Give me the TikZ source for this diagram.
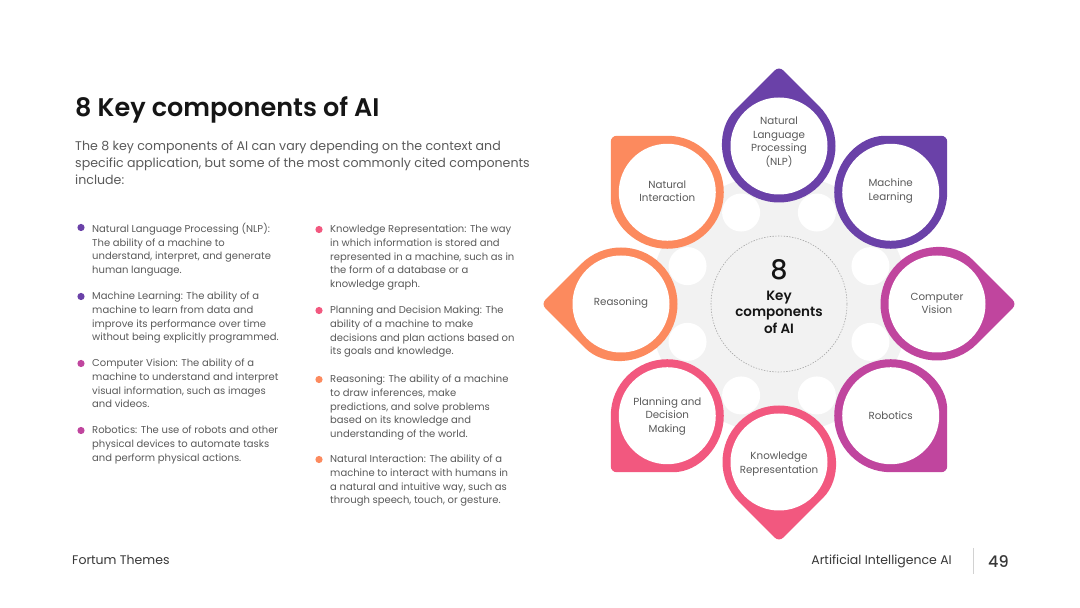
\documentclass[tikz,border=0pt]{standalone}
\usepackage{fontspec}
\usetikzlibrary{calc}
\setmainfont{Poppins}
\newfontfamily\medfont{Poppins Medium}
\newfontfamily\semifont{Poppins SemiBold}
\definecolor{cpurple}{HTML}{6A41A8}
\definecolor{cmag}{HTML}{C0459E}
\definecolor{cpink}{HTML}{F2587F}
\definecolor{corange}{HTML}{FC8A5E}
\definecolor{txt}{HTML}{5A5A5A}
\definecolor{hubgray}{HTML}{F2F2F2}
\definecolor{dark}{HTML}{151515}
\newcommand\drawpetal[2]{%
  \begin{scope}[shift={(779,304)},rotate=#1-45]
    \begin{scope}[shift={(45:158)}]
      \fill[#2, rounded corners=6pt] (56.5,0) -- (56.5,56.5) -- (0,56.5) [sharp corners] arc[start angle=90,end angle=360,radius=56.5] -- cycle;
      \fill[white] (0,0) circle[radius=48.5];
    \end{scope}
  \end{scope}}
\tikzset{
  ptext/.style={font=\fontsize{10.3}{13.5}\selectfont, text=txt, align=center, inner sep=0pt},
  bul/.style={font=\fontsize{10}{13.7}\selectfont, text=txt, align=left, anchor=north west, inner sep=0pt},
  foot/.style={font=\fontsize{12.5}{14}\selectfont, text=dark!85, inner sep=0pt}
}
\begin{document}
\begin{tikzpicture}[x=1pt,y=1pt]
\useasboundingbox (0,0) rectangle (1080,608);
\fill[white] (0,0) rectangle (1080,608);

% title and intro
\node[anchor=base west, inner sep=0pt, font=\semifont\fontsize{25.5}{26}\selectfont, text=dark] (title) at (75,491) {8 Key components of AI};
\node[anchor=north west, inner sep=0pt, align=left, font=\fontsize{12.6}{17}\selectfont, text=txt] (intro) at (75,467)
 {The 8 key components of AI can vary depending on the context and\\specific application, but some of the most commonly cited components\\include:};

% bullets column 1
\node[bul] (b1) at (92,385) {Natural Language Processing (NLP):\\The ability of a machine to\\understand, interpret, and generate\\human language.};
\node[bul] (b2) at (92,316) {Machine Learning: The ability of a\\machine to learn from data and\\improve its performance over time\\without being explicitly programmed.};
\node[bul] (b3) at (92,249) {Computer Vision: The ability of a\\machine to understand and interpret\\visual information, such as images\\and videos.};
\node[bul] (b4) at (92,182) {Robotics: The use of robots and other\\physical devices to automate tasks\\and perform physical actions.};
% bullets column 2
\node[bul] (b5) at (330,383) {Knowledge Representation: The way\\in which information is stored and\\represented in a machine, such as in\\the form of a database or a\\knowledge graph.};
\node[bul] (b6) at (330,302) {Planning and Decision Making: The\\ability of a machine to make\\decisions and plan actions based on\\its goals and knowledge.};
\node[bul] (b7) at (330,233) {Reasoning: The ability of a machine\\to draw inferences, make\\predictions, and solve problems\\based on its knowledge and\\understanding of the world.};
\node[bul] (b8) at (330,153) {Natural Interaction: The ability of a\\machine to interact with humans in\\a natural and intuitive way, such as\\through speech, touch, or gesture.};
\foreach \b/\c in {b1/cpurple,b2/cpurple,b3/cmag,b4/cmag,b5/cpink,b6/cpink,b7/corange,b8/corange}
  \fill[\c] ([xshift=-11pt,yshift=-4.5pt]\b.north west) circle[radius=3.6];

% hub
\fill[hubgray] (779,304) circle[radius=130];
\foreach \a in {22.5,67.5,...,337.5}
  \fill[white] ($(779,304)+(\a:99)$) circle[radius=19];
\draw[gray!70, line width=0.6pt, dash pattern=on 1.4pt off 1.4pt] (779,304) circle[radius=68];

% petals
\drawpetal{90}{cpurple}
\drawpetal{45}{cpurple}
\drawpetal{0}{cmag}
\drawpetal{-45}{cmag}
\drawpetal{-90}{cpink}
\drawpetal{-135}{cpink}
\drawpetal{180}{corange}
\drawpetal{135}{corange}

\node[ptext] (nlp) at (779,466) {Natural\\Language\\Processing\\(NLP)};
\node[ptext] (ml) at (890.7,417) {Machine\\Learning};
\node[ptext] (cv) at (937,304.5) {Computer\\Vision};
\node[ptext] (rob) at (890.7,192) {Robotics};
\node[ptext] (kr) at (779,144) {Knowledge\\Representation};
\node[ptext] (pdm) at (667.3,192) {Planning and\\Decision\\Making};
\node[ptext] (rea) at (621,305) {Reasoning};
\node[ptext] (ni) at (667.3,417) {Natural\\Interaction};

\node[inner sep=0pt, font=\medfont\fontsize{27}{27}\selectfont, text=dark] (eight) at (779,338) {8};
\node[inner sep=0pt, align=center, font=\semifont\fontsize{13.5}{16.5}\selectfont, text=dark] (hubtext) at (779,296) {Key\\components\\of AI};

% footer
\node[foot, anchor=base west] (brand) at (72,43) {Fortum Themes};
\node[foot, anchor=base east] (topic) at (952,43) {Artificial Intelligence AI};
\coordinate (sepTop) at (973,60);
\coordinate (sepBot) at (973,34);
\draw[gray!35, line width=0.8pt] (sepTop) -- (sepBot);
\node[anchor=base west, inner sep=0pt, font=\medfont\fontsize{16}{16}\selectfont, text=dark!85] (page) at (988,40) {49};
\end{tikzpicture}
\end{document}
